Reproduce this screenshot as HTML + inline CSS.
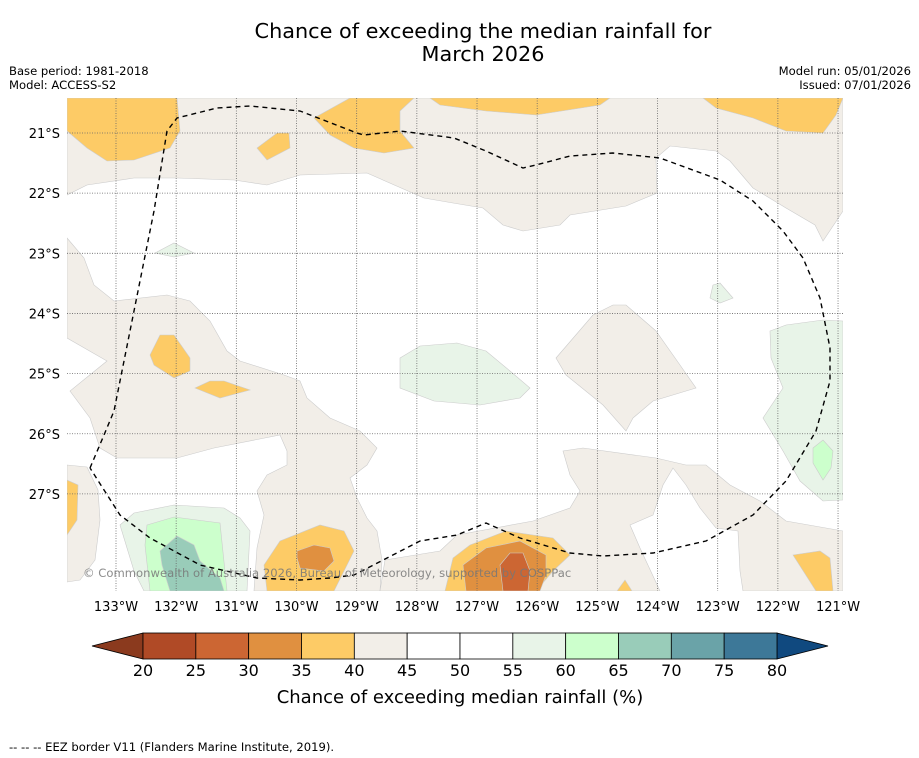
<!DOCTYPE html>
<html><head><meta charset="utf-8"><style>
body{margin:0;background:#fff;font-family:"DejaVu Sans","Liberation Sans",sans-serif;}
svg{display:block}
</style></head><body>
<svg width="919" height="758" viewBox="0 0 919 758" xmlns="http://www.w3.org/2000/svg" font-family="DejaVu Sans, Liberation Sans, sans-serif">
<rect width="919" height="758" fill="#fff"/>
<text x="483" y="38" font-size="20.8" text-anchor="middle" fill="#000">Chance of exceeding the median rainfall for</text>
<text x="483" y="61" font-size="20.8" text-anchor="middle" fill="#000">March 2026</text>
<text x="9" y="75" font-size="11.6">Base period: 1981-2018</text>
<text x="9" y="89" font-size="11.6">Model: ACCESS-S2</text>
<text x="911" y="75" font-size="11.6" text-anchor="end">Model run: 05/01/2026</text>
<text x="911" y="89" font-size="11.6" text-anchor="end">Issued: 07/01/2026</text>

<defs><clipPath id="mapclip"><rect x="67" y="98" width="776" height="493"/></clipPath></defs>
<g id="map" clip-path="url(#mapclip)" stroke="#ccc" stroke-width="0.6">
<rect x="67" y="98" width="776" height="493" fill="#fff" stroke="none"/>
<polygon fill="#f2eee8" points="67,98 843,98 843,211 823,241 815,225 786,208 753,188 730,161 716,151 670,146 656,158 657,193 626,206 570,215 560,225 523,231 503,225 483,208 453,203 424,198 367,173 300,175 267,185 234,180 177,178 134,178 87,185 67,195"/>
<polygon fill="#f2eee8" points="67,238 84,258 94,285 114,301 167,295 190,301 210,321 227,351 240,361 284,375 300,381 307,398 330,418 360,431 377,448 367,465 350,478 357,498 367,518 377,531 382,560 380,591 254,591 257,548 264,515 257,491 267,475 287,465 287,451 280,435 214,448 177,458 117,458 100,448 90,418 70,391 107,361 67,338"/>
<polygon fill="#f2eee8" points="380,591 385,560 440,551 457,535 533,521 570,508 580,491 570,475 563,451 583,448 656,458 686,465 706,465 730,485 760,501 786,521 843,531 843,591 743,591 740,571 738,531 716,528 700,508 686,485 673,468 663,485 653,515 630,525 640,548 660,591"/>
<polygon fill="#f2eee8" points="67,465 87,467 98,490 100,520 95,560 80,580 67,582"/>
<polygon fill="#f2eee8" points="556,358 593,315 613,305 626,305 656,331 680,365 696,388 653,401 633,418 626,431 603,405 566,375"/>
<polygon fill="#fdcb66" points="67,98 177,98 180,131 170,148 134,160 107,161 87,148 67,131"/>
<polygon fill="#fdcb66" points="257,148 267,160 290,148 289,133 277,133"/>
<polygon fill="#fdcb66" points="314,118 350,98 414,98 400,111 400,131 414,148 384,153 354,148 330,135"/>
<polygon fill="#fdcb66" points="430,98 610,98 600,105 536,115 486,111 440,105"/>
<polygon fill="#fdcb66" points="703,98 843,98 836,115 823,133 786,131 753,118 716,108"/>
<polygon fill="#fdcb66" points="150,355 160,335 174,335 190,358 190,371 174,378 154,365"/>
<polygon fill="#fdcb66" points="195,388 210,381 224,381 250,390 220,398"/>
<polygon fill="#fdcb66" points="67,480 78,485 77,520 67,535"/>
<polygon fill="#fdcb66" points="264,565 280,541 320,525 344,531 354,551 344,571 334,591 267,591"/>
<polygon fill="#e09040" points="297,551 314,545 330,548 334,561 324,571 300,568 297,558"/>
<polygon fill="#fdcb66" points="445,591 453,558 470,545 506,531 553,538 570,555 553,571 536,591"/>
<polygon fill="#e09040" points="463,565 486,548 520,541 546,555 546,575 540,591 466,591"/>
<polygon fill="#cc6633" points="500,565 510,553 523,553 530,571 528,591 503,591"/>
<polygon fill="#fdcb66" points="617,591 625,580 632,591"/>
<polygon fill="#fdcb66" points="793,555 820,551 830,558 833,591 816,591"/>
<polygon fill="#e8f4e8" points="120,525 134,513 174,505 224,508 240,518 250,531 247,591 144,591 134,571"/>
<polygon fill="#ccffcc" points="147,525 174,517 220,523 227,591 150,591 145,545"/>
<polygon fill="#99ccb9" points="160,551 177,536 194,545 200,561 220,578 224,591 170,591 162,565"/>
<polygon fill="#e8f4e8" points="400,358 420,346 457,343 486,351 510,371 530,388 520,398 480,405 434,401 400,388"/>
<polygon fill="#e8f4e8" points="770,331 786,325 823,320 843,321 843,500 823,501 800,481 783,451 763,418 783,388 771,358"/>
<polygon fill="#ccffcc" points="813,448 823,440 833,451 831,468 823,480 813,463"/>
<polygon fill="#e8f4e8" points="713,285 720,283 733,298 720,303 710,298"/>
<polygon fill="#e8f4e8" points="155,253 174,243 194,253 174,257"/>
<g id="grid" stroke="#666" stroke-width="0.8" stroke-dasharray="1,1.5" fill="none"></g>
<polyline fill="none" stroke="#000" stroke-width="1.4" stroke-dasharray="5,4" points="90,468 104,435 114,411 134,311 154,211 167,131 177,118 217,108 250,106 300,111 357,133 364,135 400,131 454,138 486,151 523,168 536,165 570,156 613,153 660,158 720,180 753,201 783,231 803,258 820,298 830,348 830,381 816,431 786,481 753,515 706,541 653,553 603,556 570,553 520,538 486,523 457,535 420,541 354,575 330,578 300,580 257,578 200,565 150,538 120,515 90,468"/>
<text x="83" y="577" font-size="11.6" fill="#777" fill-opacity="0.85" stroke="none">© Commonwealth of Australia 2026, Bureau of Meteorology, supported by COSPPac</text>
</g>
<g id="axes"></g>
<g id="colorbar"></g>
<text x="460" y="703" font-size="18" text-anchor="middle">Chance of exceeding median rainfall (%)</text>
<text x="9" y="751" font-size="11.6">--  --  -- EEZ border V11 (Flanders Marine Institute, 2019).</text>
</svg>
<script>
const lonTicks=[133,132,131,130,129,128,127,126,125,124,123,122,121];
const latTicks=[21,22,23,24,25,26,27];
const levels=[20,25,30,35,40,45,50,55,60,65,70,75,80];
const levelColors=["#b04a26","#cc6633","#e09040","#fdcb66","#f2eee8","#ffffff","#ffffff","#e8f4e8","#ccffcc","#99ccb9","#6aa3a8","#3d7898"];
const extendLowColor="#8b3a1e", extendHighColor="#10497f";
const NS="http://www.w3.org/2000/svg";
function mk(t,a,p){const e=document.createElementNS(NS,t);for(const k in a)e.setAttribute(k,a[k]);p.appendChild(e);return e;}
function xLon(l){return 116+(133-l)*60.17;}
function yLat(l){return 133+(l-21)*60.15;}
function xLev(v){return 143+(v-20)/60*634;}
const grid=document.getElementById('grid'),axes=document.getElementById('axes'),cb=document.getElementById('colorbar');
lonTicks.forEach(l=>{
 const g=mk('line',{x1:xLon(l),x2:xLon(l),y1:98,y2:591},grid);
 
 
 const t=mk('text',{x:xLon(l),y:611,'font-size':13,'text-anchor':'middle'},axes);
 t.textContent=l+'°W';
 
 
});
latTicks.forEach(l=>{
 const g=mk('line',{x1:67,x2:843,y1:yLat(l),y2:yLat(l)},grid);
 
 
 const t=mk('text',{x:60,y:yLat(l)+5,'font-size':13,'text-anchor':'end'},axes);
 t.textContent=l+'°S';
 
 
});
const y0=633,y1=659;
const lo=mk('polygon',{points:`92,${(y0+y1)/2} ${xLev(levels[0])},${y0} ${xLev(levels[0])},${y1}`,fill:extendLowColor,stroke:'#000','stroke-width':0.8},cb);


const hi=mk('polygon',{points:`828,${(y0+y1)/2} ${xLev(levels[levels.length-1])},${y0} ${xLev(levels[levels.length-1])},${y1}`,fill:extendHighColor,stroke:'#000','stroke-width':0.8},cb);


levelColors.forEach((c,i)=>{
 const r=mk('rect',{x:xLev(levels[i]),y:y0,width:xLev(levels[i+1])-xLev(levels[i]),height:y1-y0,fill:c,stroke:'#000','stroke-width':0.8},cb);
 
 
});
levels.forEach(v=>{
 const t=mk('text',{x:xLev(v),y:676,'font-size':16,'text-anchor':'middle'},cb);
 t.textContent=v;
 
 
});
</script>
</body></html>
